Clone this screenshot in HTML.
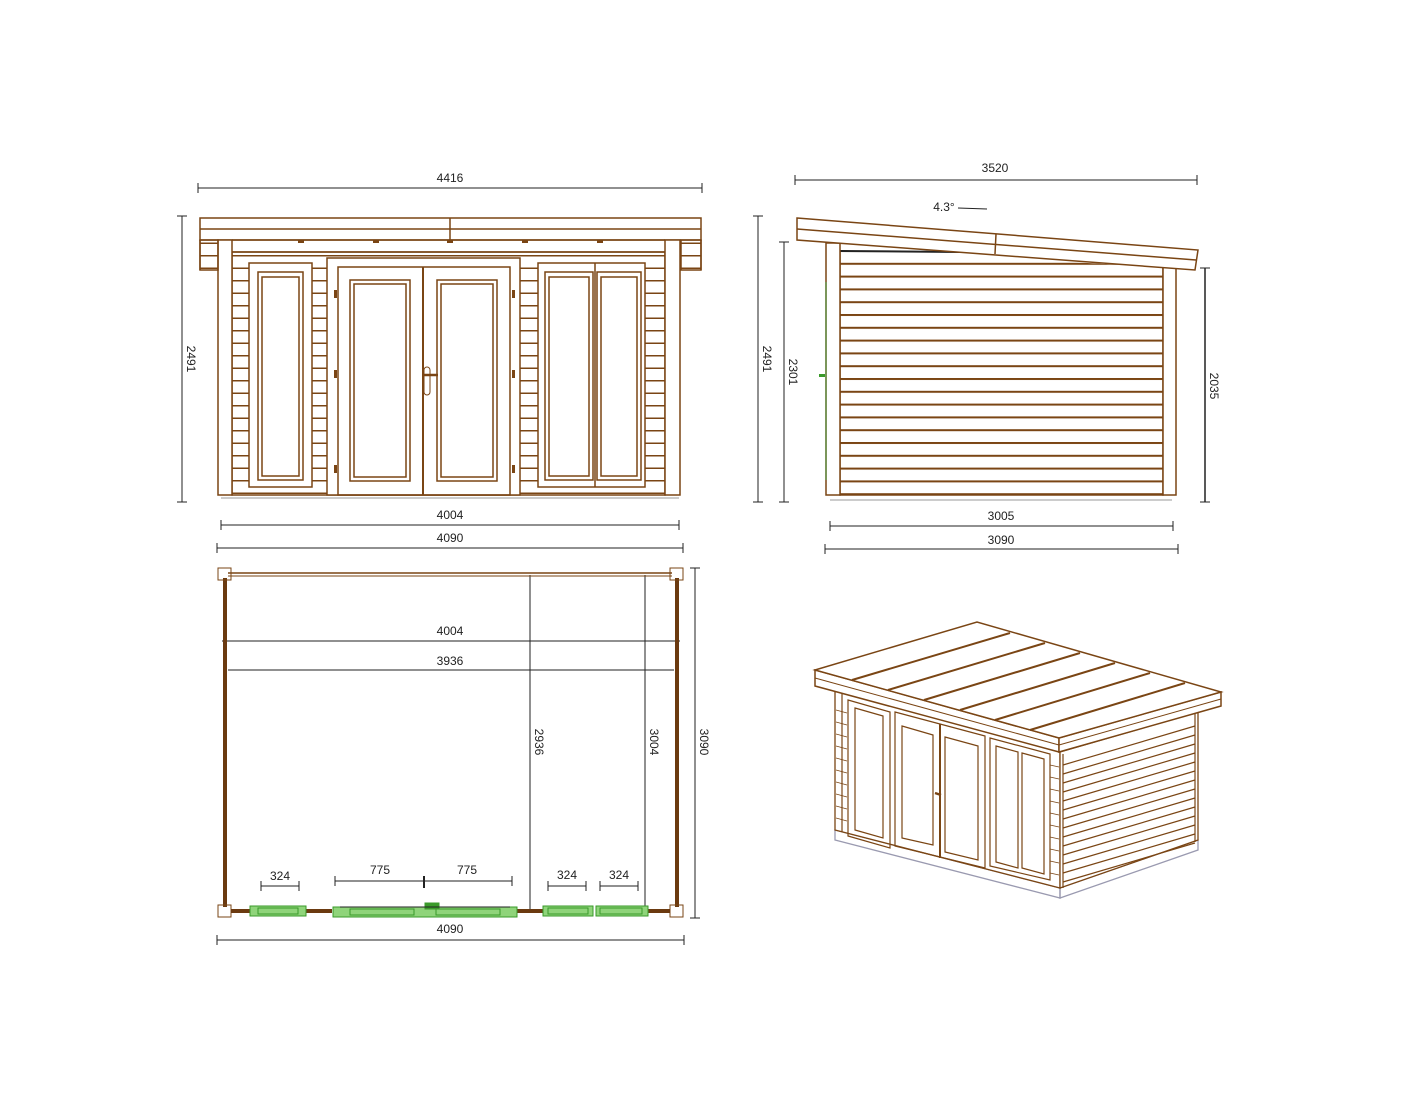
<!DOCTYPE html>
<html><head><meta charset="utf-8"><style>
html,body{margin:0;padding:0;background:#fff;}
svg{display:block;}
text{font-family:"Liberation Sans",sans-serif;font-size:12px;fill:#222;}
</style></head><body>
<svg width="1422" height="1100" viewBox="0 0 1422 1100" xmlns="http://www.w3.org/2000/svg">
<defs>
<pattern id="sid" x="0" y="255" width="10" height="12.5" patternUnits="userSpaceOnUse">
<line x1="0" y1="0.75" x2="10" y2="0.75" stroke="#7a4514" stroke-width="1.5"/>
</pattern>
<pattern id="sid2" x="0" y="250" width="10" height="12.8" patternUnits="userSpaceOnUse">
<rect x="0" y="0" width="10" height="2" fill="#7a4514"/>
</pattern>
</defs>
<g fill="none" stroke="#222" stroke-width="1">
<!-- FRONT dims -->
<line x1="198" y1="188" x2="702" y2="188"/><line x1="198" y1="183" x2="198" y2="193"/><line x1="702" y1="183" x2="702" y2="193"/>
<line x1="182" y1="216" x2="182" y2="502"/><line x1="177" y1="216" x2="187" y2="216"/><line x1="177" y1="502" x2="187" y2="502"/>
<line x1="221" y1="525" x2="679" y2="525"/><line x1="221" y1="520" x2="221" y2="530"/><line x1="679" y1="520" x2="679" y2="530"/>
<line x1="217" y1="548" x2="683" y2="548"/><line x1="217" y1="543" x2="217" y2="553"/><line x1="683" y1="543" x2="683" y2="553"/>
<!-- SIDE dims -->
<line x1="795" y1="180" x2="1197" y2="180"/><line x1="795" y1="175" x2="795" y2="185"/><line x1="1197" y1="175" x2="1197" y2="185"/>
<line x1="758" y1="216" x2="758" y2="502"/><line x1="753" y1="216" x2="763" y2="216"/><line x1="753" y1="502" x2="763" y2="502"/>
<line x1="784" y1="242" x2="784" y2="502"/><line x1="779" y1="242" x2="789" y2="242"/><line x1="779" y1="502" x2="789" y2="502"/>
<line x1="1205" y1="268" x2="1205" y2="502" stroke-width="1.5"/><line x1="1200" y1="268" x2="1210" y2="268"/><line x1="1200" y1="502" x2="1210" y2="502"/>
<line x1="830" y1="526" x2="1173" y2="526"/><line x1="830" y1="521" x2="830" y2="531"/><line x1="1173" y1="521" x2="1173" y2="531"/>
<line x1="825" y1="549" x2="1178" y2="549"/><line x1="825" y1="544" x2="825" y2="554"/><line x1="1178" y1="544" x2="1178" y2="554"/>
<line x1="958" y1="208" x2="987" y2="209"/>
<!-- PLAN dims -->
<line x1="222" y1="641" x2="680" y2="641"/><line x1="228" y1="670" x2="674" y2="670"/>
<line x1="530" y1="575" x2="530" y2="910"/><line x1="645" y1="575" x2="645" y2="910"/>
<line x1="695" y1="568" x2="695" y2="918"/><line x1="690" y1="568" x2="700" y2="568"/><line x1="690" y1="918" x2="700" y2="918"/>
<line x1="217" y1="940" x2="684" y2="940"/><line x1="217" y1="935" x2="217" y2="945"/><line x1="684" y1="935" x2="684" y2="945"/>
<line x1="261" y1="886" x2="299" y2="886"/><line x1="261" y1="881" x2="261" y2="891"/><line x1="299" y1="881" x2="299" y2="891"/>
<line x1="335" y1="881" x2="512" y2="881"/><line x1="335" y1="876" x2="335" y2="886"/><line x1="424" y1="876" x2="424" y2="888" stroke-width="2"/><line x1="512" y1="876" x2="512" y2="886"/>
<line x1="548" y1="886" x2="586" y2="886"/><line x1="548" y1="881" x2="548" y2="891"/><line x1="586" y1="881" x2="586" y2="891"/>
<line x1="600" y1="886" x2="638" y2="886"/><line x1="600" y1="881" x2="600" y2="891"/><line x1="638" y1="881" x2="638" y2="891"/>
</g>
<text x="450" y="182" text-anchor="middle">4416</text>
<text x="450" y="519" text-anchor="middle">4004</text>
<text x="450" y="542" text-anchor="middle">4090</text>
<text transform="translate(187,359) rotate(90)" text-anchor="middle">2491</text>
<text transform="translate(386,380) rotate(90)" text-anchor="middle">2000</text>
<text x="995" y="172" text-anchor="middle">3520</text>
<text x="944" y="211" text-anchor="middle">4.3°</text>
<text x="1001" y="520" text-anchor="middle">3005</text>
<text x="1001" y="544" text-anchor="middle">3090</text>
<text transform="translate(763,359) rotate(90)" text-anchor="middle">2491</text>
<text transform="translate(789,372) rotate(90)" text-anchor="middle">2301</text>
<text transform="translate(1210,386) rotate(90)" text-anchor="middle">2035</text>
<text x="450" y="635" text-anchor="middle">4004</text>
<text x="450" y="665" text-anchor="middle">3936</text>
<text transform="translate(535,742) rotate(90)" text-anchor="middle">2936</text>
<text transform="translate(650,742) rotate(90)" text-anchor="middle">3004</text>
<text transform="translate(700,742) rotate(90)" text-anchor="middle">3090</text>
<text x="450" y="933" text-anchor="middle">4090</text>
<text x="280" y="880" text-anchor="middle">324</text>
<text x="380" y="874" text-anchor="middle">775</text>
<text x="467" y="874" text-anchor="middle">775</text>
<text x="567" y="879" text-anchor="middle">324</text>
<text x="619" y="879" text-anchor="middle">324</text>

<!-- FRONT ELEVATION -->
<g stroke="#7a4514" stroke-width="1.5" fill="none">
<rect x="200" y="218" width="501" height="22"/><line x1="200" y1="229" x2="701" y2="229"/><line x1="450" y1="218" x2="450" y2="240"/>
<rect x="232" y="252" width="433" height="243" fill="url(#sid)"/>
<line x1="232" y1="252" x2="665" y2="252"/>
<rect x="218" y="240" width="14" height="255" fill="#fff"/>
<rect x="665" y="240" width="15" height="255" fill="#fff"/>
<line x1="232" y1="240" x2="665" y2="240"/>
<rect x="200" y="240" width="18" height="30" fill="url(#sid)"/><line x1="200" y1="240" x2="200" y2="270"/>
<rect x="681" y="240" width="20" height="30" fill="url(#sid)"/><line x1="701" y1="240" x2="701" y2="270"/>
<line x1="221" y1="498" x2="679" y2="498" stroke="#999" stroke-width="1"/>
<!-- left window -->
<rect x="249" y="263" width="63" height="224" fill="#fff"/>
<rect x="258" y="272" width="45" height="208"/><rect x="262" y="277" width="37" height="199"/>
<!-- door -->
<rect x="327" y="258" width="193" height="237" fill="#fff"/>
<rect x="338" y="267" width="172" height="228"/>
<line x1="423" y1="267" x2="423" y2="495" stroke-width="2"/>
<rect x="350" y="280" width="60" height="201"/><rect x="354" y="284" width="52" height="193"/>
<rect x="437" y="280" width="60" height="201"/><rect x="441" y="284" width="52" height="193"/>
<line x1="423" y1="375" x2="438" y2="375" stroke-width="2.5"/><rect x="424" y="367" width="6" height="28" rx="3" stroke-width="1"/>
<!-- right windows -->
<rect x="538" y="263" width="107" height="224" fill="#fff"/>
<rect x="545" y="272" width="48" height="208"/><rect x="549" y="277" width="40" height="199"/>
<rect x="597" y="272" width="44" height="208"/><rect x="601" y="277" width="36" height="199"/>
<line x1="595" y1="263" x2="595" y2="487"/>
</g>
<g fill="#7a4514">
<rect x="334" y="290" width="3" height="8"/><rect x="334" y="370" width="3" height="8"/><rect x="334" y="465" width="3" height="8"/>
<rect x="512" y="290" width="3" height="8"/><rect x="512" y="370" width="3" height="8"/><rect x="512" y="465" width="3" height="8"/>
<rect x="298" y="240" width="6" height="3"/><rect x="373" y="240" width="6" height="3"/><rect x="447" y="240" width="6" height="3"/><rect x="522" y="240" width="6" height="3"/><rect x="597" y="240" width="6" height="3"/>
</g>

<!-- SIDE ELEVATION -->
<g stroke="#7a4514" stroke-width="1.5" fill="none">
<rect x="840" y="250" width="323" height="245" fill="url(#sid2)"/>
<polygon points="840,250 1163,267 1163,245 840,245" fill="#fff" stroke="none"/>
<line x1="840" y1="251" x2="960" y2="252" stroke="#222" stroke-width="2"/>
<rect x="826" y="243" width="14" height="252" fill="#fff"/>
<rect x="1163" y="266" width="13" height="229" fill="#fff"/>
<polygon points="797,218 1198,250 1195,270 797,240" fill="#fff"/>
<line x1="797" y1="229" x2="1196" y2="260"/><line x1="996" y1="234" x2="995" y2="254"/>
<line x1="830" y1="500" x2="1172" y2="500" stroke="#999" stroke-width="1"/>
</g>
<line x1="826" y1="282" x2="826" y2="480" stroke="#3a8a2a" stroke-width="1"/>
<rect x="819" y="374" width="6" height="3" fill="#3a9a2a"/>

<!-- PLAN -->
<g stroke="#7a4514" fill="none">
<line x1="228" y1="573" x2="672" y2="573" stroke-width="1.5"/><line x1="228" y1="576" x2="672" y2="576" stroke-width="1"/>
<line x1="225" y1="578" x2="225" y2="907" stroke="#6b3a10" stroke-width="4"/>
<line x1="677" y1="578" x2="677" y2="907" stroke="#6b3a10" stroke-width="4"/>
<rect x="218" y="568" width="13" height="12" stroke-width="1"/><rect x="670" y="568" width="13" height="12" stroke-width="1"/>
<rect x="218" y="905" width="13" height="12" stroke-width="1"/><rect x="670" y="905" width="13" height="12" stroke-width="1"/>
<line x1="231" y1="911" x2="250" y2="911" stroke="#6b3a10" stroke-width="4"/>
<line x1="306" y1="911" x2="332" y2="911" stroke="#6b3a10" stroke-width="4"/>
<line x1="517" y1="911" x2="543" y2="911" stroke="#6b3a10" stroke-width="4"/>
<line x1="648" y1="911" x2="670" y2="911" stroke="#6b3a10" stroke-width="4"/>
</g>
<g fill="#8fd47a" stroke="#3a9a2a" stroke-width="1">
<rect x="250" y="906" width="56" height="10"/><rect x="258" y="908" width="40" height="6"/>
<rect x="333" y="907" width="184" height="10"/><rect x="350" y="909" width="64" height="6"/><rect x="436" y="909" width="64" height="6"/>
<rect x="425" y="903" width="14" height="6" fill="#3a9a2a"/>
<rect x="543" y="906" width="50" height="10"/><rect x="548" y="908" width="40" height="6"/>
<rect x="596" y="906" width="52" height="10"/><rect x="600" y="908" width="42" height="6"/>
</g>
<line x1="340" y1="907" x2="510" y2="907" stroke="#222" stroke-width="1"/>

<!-- ISOMETRIC -->
<g stroke="#7a4514" stroke-width="1.3" fill="#fff">
<polygon points="1060,898 1198,850 1198,840 1060,888" fill="none" stroke="#9a9ab0"/>
<polygon points="835,840 1060,898 1060,888 835,830" fill="none" stroke="#9a9ab0"/>
<polygon points="835,690 1060,752 1060,888 835,830"/>
<polygon points="1060,752 1198,712 1198,840 1060,888" fill="#fff"/>
</g>
<g stroke="#7a4514" stroke-width="1.2" fill="none">
<!-- right wall siding -->
<g>
<line x1="1063" y1="765" x2="1195" y2="726"/><line x1="1063" y1="774" x2="1195" y2="735"/><line x1="1063" y1="783" x2="1195" y2="744"/><line x1="1063" y1="792" x2="1195" y2="753"/><line x1="1063" y1="801" x2="1195" y2="762"/><line x1="1063" y1="810" x2="1195" y2="771"/><line x1="1063" y1="819" x2="1195" y2="780"/><line x1="1063" y1="828" x2="1195" y2="789"/><line x1="1063" y1="837" x2="1195" y2="798"/><line x1="1063" y1="846" x2="1195" y2="807"/><line x1="1063" y1="855" x2="1195" y2="816"/><line x1="1063" y1="864" x2="1195" y2="825"/><line x1="1063" y1="873" x2="1195" y2="834"/><line x1="1063" y1="882" x2="1195" y2="843"/>
</g>
<line x1="1063" y1="754" x2="1063" y2="888"/><line x1="1195" y1="713" x2="1195" y2="842"/>
<!-- front wall details -->
<line x1="842" y1="692" x2="842" y2="832"/>
<polygon points="848,700 890,712 890,848 848,836"/>
<polygon points="855,708 883,716 883,838 855,830"/>
<polygon points="895,712 985,736 985,868 895,846"/>
<line x1="940" y1="724" x2="940" y2="858" stroke-width="2"/>
<polygon points="902,726 933,735 933,845 902,838"/>
<polygon points="945,737 978,746 978,860 945,852"/>
<polygon points="990,738 1050,754 1050,880 990,866"/>
<polygon points="996,746 1018,752 1018,868 996,862"/>
<polygon points="1022,753 1044,759 1044,874 1022,868"/>
<line x1="935" y1="793" x2="941" y2="795" stroke-width="2.5"/>
<g stroke-width="0.8">
<line x1="836" y1="710" x2="847" y2="713"/><line x1="836" y1="722" x2="847" y2="725"/><line x1="836" y1="734" x2="847" y2="737"/><line x1="836" y1="746" x2="847" y2="749"/><line x1="836" y1="758" x2="847" y2="761"/><line x1="836" y1="770" x2="847" y2="773"/><line x1="836" y1="782" x2="847" y2="785"/><line x1="836" y1="794" x2="847" y2="797"/><line x1="836" y1="806" x2="847" y2="809"/><line x1="836" y1="818" x2="847" y2="821"/>
<line x1="1050" y1="765" x2="1059" y2="767"/><line x1="1050" y1="777" x2="1059" y2="779"/><line x1="1050" y1="789" x2="1059" y2="791"/><line x1="1050" y1="801" x2="1059" y2="803"/><line x1="1050" y1="813" x2="1059" y2="815"/><line x1="1050" y1="825" x2="1059" y2="827"/><line x1="1050" y1="837" x2="1059" y2="839"/><line x1="1050" y1="849" x2="1059" y2="851"/><line x1="1050" y1="861" x2="1059" y2="863"/><line x1="1050" y1="873" x2="1059" y2="875"/>
</g>
</g>
<!-- roof -->
<g stroke="#7a4514" stroke-width="1.5">
<polygon points="815,670 1059,738 1059,752 815,686" fill="#fff"/>
<polygon points="1059,738 1221,692 1221,706 1059,752" fill="#fff"/>
<polygon points="815,670 977,622 1221,692 1059,738" fill="#fff"/>
<line x1="815" y1="678" x2="1059" y2="745" stroke-width="1"/>
<line x1="1059" y1="745" x2="1221" y2="699" stroke-width="1"/>
<g stroke-width="2">
<line x1="852" y1="680" x2="1010" y2="633"/>
<line x1="888" y1="690" x2="1045" y2="643"/>
<line x1="924" y1="700" x2="1080" y2="653"/>
<line x1="960" y1="710" x2="1115" y2="663"/>
<line x1="995" y1="720" x2="1150" y2="673"/>
<line x1="1030" y1="730" x2="1185" y2="683"/>
</g>
</g>
</svg>
</body></html>
